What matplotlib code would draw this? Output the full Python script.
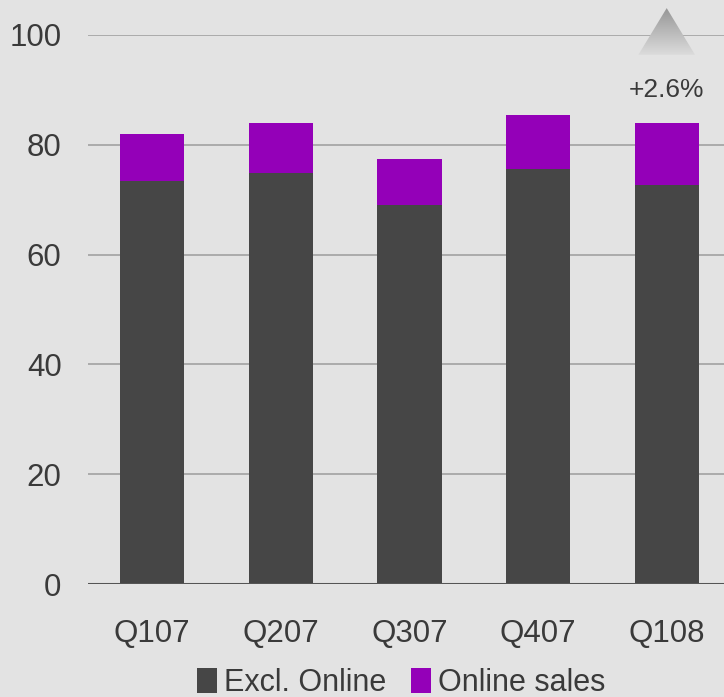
import numpy as np
import matplotlib
matplotlib.use("Agg")
import matplotlib.pyplot as plt
from matplotlib.patches import Polygon
from matplotlib.colors import LinearSegmentedColormap

quarters = ["Q107", "Q207", "Q307", "Q407", "Q108"]
excl_online = [73.4, 74.9, 69.0, 75.6, 72.7]
online_sales = [8.5, 9.1, 8.4, 9.8, 11.3]
y_ticks = [0, 20, 40, 60, 80, 100]

BG = "#e3e3e3"
DARK = "#464646"
PURPLE = "#9400b8"
TEXT = "#3a3a3a"

plt.rcParams["font.family"] = ["Liberation Sans", "DejaVu Sans"]

W, H = 724, 697
fig = plt.figure(figsize=(W / 100, H / 100), dpi=100, facecolor=BG)
ax = fig.add_axes([88 / W, 113 / H, (731 - 88) / W, 549 / H])
ax.set_facecolor(BG)

x = np.arange(len(quarters))
ax.bar(x, excl_online, width=0.5, color=DARK, label="Excl. Online", zorder=3)
ax.bar(x, online_sales, width=0.5, bottom=excl_online, color=PURPLE,
       label="Online sales", zorder=3)

ax.set_xlim(-0.5, 4.5)
ax.set_ylim(0, 100)
ax.set_yticks(y_ticks)
ax.set_xticks(x)
ax.set_xticklabels(quarters)
ax.tick_params(axis="both", length=0, labelsize=22.5, colors=TEXT)
ax.tick_params(axis="y", pad=19)
ax.tick_params(axis="x", pad=25)
for s in ax.spines.values():
    s.set_visible(False)
ax.grid(axis="y", color="#ababab", linewidth=1.4, zorder=0)
ax.axhline(0, color="#555555", linewidth=2.2, zorder=4)

# growth marker above the last quarter, drawn on a transparent overlay
totals = np.array(excl_online) + np.array(online_sales)
growth = (totals[-1] / totals[0] - 1) * 100
cx = x[-1]
ax.text(cx, 90.0, f"+{growth:.1f}%", ha="center", va="center",
        fontsize=19, color=TEXT)

(px0, py0), (px1, py1) = ax.transData.transform([(cx - 0.22, 96.4),
                                                 (cx + 0.22, 104.9)])
pcx = (px0 + px1) / 2
ov = fig.add_axes([0, 0, 1, 1], zorder=5)
ov.set_xlim(0, W)
ov.set_ylim(0, H)
ov.axis("off")
ov.patch.set_alpha(0)
tri = Polygon([[px0, py0], [px1, py0], [pcx, py1]], closed=True,
              facecolor="none", edgecolor="none")
ov.add_patch(tri)
grad = np.linspace(0, 1, 256).reshape(-1, 1)
cmap = LinearSegmentedColormap.from_list("g", ["#dcdcdc", "#969696"])
img = ov.imshow(grad, cmap=cmap, extent=[px0, px1, py0, py1], origin="lower",
                aspect="auto", interpolation="bilinear")
img.set_clip_path(tri)
ov.set_xlim(0, W)
ov.set_ylim(0, H)

leg = fig.legend(loc="center", bbox_to_anchor=(401 / W, 1 - 683 / H),
                 ncol=2, frameon=False, fontsize=22, handlelength=0.66,
                 handleheight=0.9, handletextpad=0.22, columnspacing=0.8,
                 labelcolor=TEXT, borderaxespad=0)

fig.savefig("out.png", dpi=100, facecolor=BG)
